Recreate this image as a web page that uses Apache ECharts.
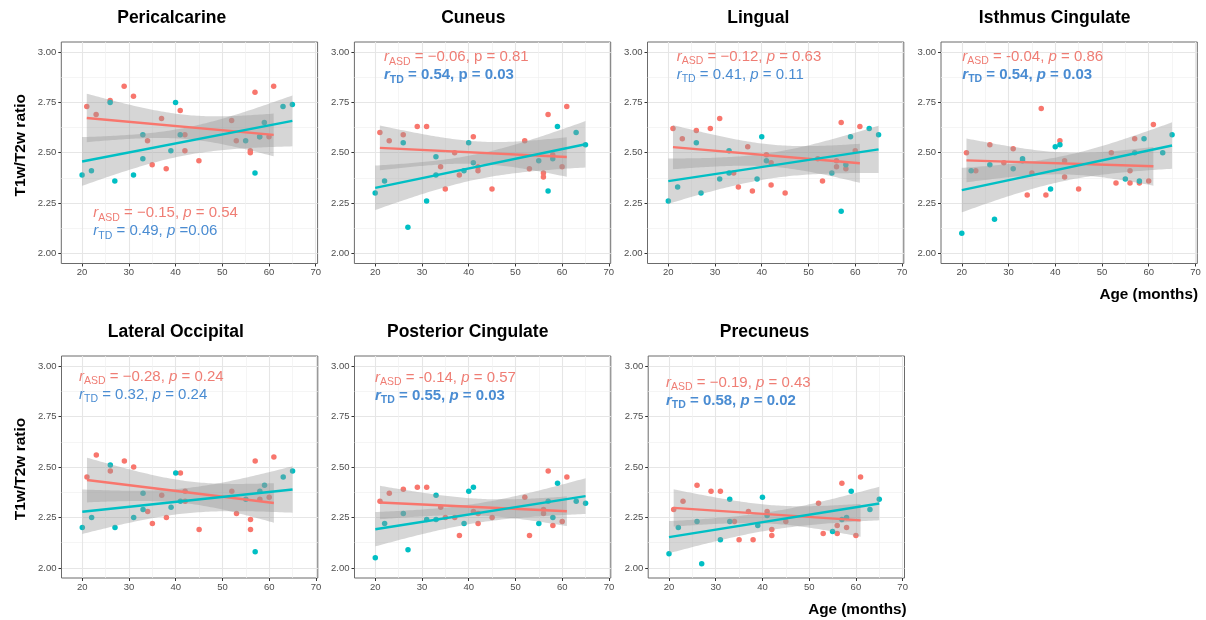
<!DOCTYPE html>
<html>
<head>
<meta charset="utf-8">
<script src="https://cdn.jsdelivr.net/npm/echarts@6/dist/echarts.min.js"></script>
<style>
  html, body { margin: 0; padding: 0; background: #fff; }
  #chart { width: 1206px; height: 620px; }
</style>
</head>
<body>
<div id="chart"></div>
<script>
// ages (months) for each group, same subjects in every panel
const asdAge = [21, 23, 26, 29, 31, 34, 35, 37, 38, 41, 42, 42, 45, 52, 53, 56, 56, 57, 58, 60, 61]
const tdAge = [20, 22, 26, 27, 31, 33, 33, 39, 40, 41, 55, 57, 58, 59, 63, 65]

// T1w/T2w ratio per region
const pericalcarineAsd = [2.73, 2.69, 2.76, 2.83, 2.78, 2.56, 2.44, 2.67, 2.42, 2.71, 2.59, 2.51, 2.46, 2.66, 2.56, 2.51, 2.50, 2.80, 2.58, 2.58, 2.83]
const pericalcarineTd = [2.39, 2.41, 2.75, 2.36, 2.39, 2.59, 2.47, 2.51, 2.75, 2.59, 2.56, 2.40, 2.58, 2.65, 2.73, 2.74]
const cuneusAsd = [2.60, 2.56, 2.59, 2.63, 2.63, 2.43, 2.32, 2.50, 2.39, 2.58, 2.41, 2.43, 2.32, 2.56, 2.42, 2.40, 2.38, 2.69, 2.49, 2.43, 2.73]
const cuneusTd = [2.30, 2.36, 2.55, 2.13, 2.26, 2.48, 2.39, 2.41, 2.55, 2.45, 2.46, 2.31, 2.47, 2.63, 2.60, 2.54]
const lingualAsd = [2.62, 2.57, 2.61, 2.62, 2.67, 2.40, 2.33, 2.53, 2.31, 2.49, 2.45, 2.34, 2.30, 2.47, 2.36, 2.46, 2.43, 2.65, 2.42, 2.51, 2.63]
const lingualTd = [2.26, 2.33, 2.55, 2.30, 2.37, 2.51, 2.40, 2.37, 2.58, 2.46, 2.40, 2.21, 2.44, 2.58, 2.62, 2.59]
const isthmusAsd = [2.50, 2.41, 2.54, 2.45, 2.52, 2.29, 2.40, 2.72, 2.29, 2.56, 2.46, 2.38, 2.32, 2.50, 2.35, 2.41, 2.35, 2.57, 2.35, 2.36, 2.64]
const isthmusTd = [2.10, 2.41, 2.44, 2.17, 2.42, 2.47, 2.46, 2.32, 2.53, 2.54, 2.37, 2.50, 2.36, 2.57, 2.50, 2.59]
const latOccAsd = [2.45, 2.56, 2.48, 2.53, 2.50, 2.28, 2.22, 2.36, 2.25, 2.47, 2.38, 2.33, 2.19, 2.38, 2.27, 2.24, 2.19, 2.53, 2.34, 2.35, 2.55]
const latOccTd = [2.20, 2.25, 2.51, 2.20, 2.25, 2.37, 2.29, 2.30, 2.47, 2.33, 2.34, 2.08, 2.38, 2.41, 2.45, 2.48]
const postCingAsd = [2.33, 2.37, 2.39, 2.40, 2.40, 2.30, 2.25, 2.25, 2.16, 2.28, 2.27, 2.22, 2.25, 2.35, 2.16, 2.29, 2.27, 2.48, 2.21, 2.23, 2.45]
const postCingTd = [2.05, 2.22, 2.27, 2.09, 2.24, 2.36, 2.24, 2.22, 2.38, 2.40, 2.22, 2.33, 2.25, 2.42, 2.33, 2.32]
const precuneusAsd = [2.29, 2.33, 2.41, 2.38, 2.38, 2.23, 2.14, 2.28, 2.14, 2.28, 2.19, 2.16, 2.23, 2.32, 2.17, 2.21, 2.17, 2.42, 2.20, 2.16, 2.45]
const precuneusTd = [2.07, 2.20, 2.23, 2.02, 2.14, 2.34, 2.23, 2.21, 2.35, 2.26, 2.18, 2.24, 2.25, 2.38, 2.29, 2.34]

const regions = ['Pericalcarine', 'Cuneus', 'Lingual', 'Isthmus Cingulate', 'Lateral Occipital', 'Posterior Cingulate', 'Precuneus']
const asdValues = [pericalcarineAsd, cuneusAsd, lingualAsd, isthmusAsd, latOccAsd, postCingAsd, precuneusAsd]
const tdValues = [pericalcarineTd, cuneusTd, lingualTd, isthmusTd, latOccTd, postCingTd, precuneusTd]

// correlation labels
const rAsd = ['\u22120.15', '\u22120.06', '\u22120.12', '-0.04', '\u22120.28', '-0.14', '\u22120.19']
const pAsd = ['0.54', '0.81', '0.63', '0.86', '0.24', '0.57', '0.43']
const rTd = ['0.49', '0.54', '0.41', '0.54', '0.32', '0.55', '0.58']
const pTd = ['0.06', '0.03', '0.11', '0.03', '0.24', '0.03', '0.02']
const tdSignificant = [false, true, false, true, false, true, true]

const xTicks = [20, 30, 40, 50, 60, 70]
const xMinor = [25, 35, 45, 55, 65]
const yTicks = [2.0, 2.25, 2.5, 2.75, 3.0]
const yMinor = [2.125, 2.375, 2.625, 2.875]

// ---- layout (px) ----
const panelLeft = [61.3, 354.4, 647.5, 941, 61.5, 354.5, 648.2]
const panelTop = [42, 42, 42, 42, 356, 356, 356]
const panelW = 256.3
const panelH = [221.5, 221.5, 221.5, 221.5, 222, 222, 222]
const titleX = [171.7, 473.3, 758.3, 1054.7, 175.8, 467.7, 764.5]
const titleY = [18.3, 18.3, 18.3, 18.3, 332, 332, 332]
const noteX = [93.3, 384, 676.7, 962.3, 79, 375, 666]
const noteY = [213.3, 57.3, 57, 57, 376.7, 377.7, 382.7]

const RED = '#F8766D'
const TEAL = '#00BFC4'
const RED_TXT = '#EF7D74'
const BLUE_TXT = '#4A8CD2'
const FONT = '"Liberation Sans", Arial, Helvetica, sans-serif'

function tQuantile(df) {
  const z = 1.959964
  return z + (z ** 3 + z) / (4 * df) + (5 * z ** 5 + 16 * z ** 3 + 3 * z) / (96 * df * df) +
    (3 * z ** 7 + 19 * z ** 5 + 17 * z ** 3 - 15 * z) / (384 * df ** 3)
}

// lm fit + 95% CI like geom_smooth(method = 'lm')
function smooth(xs, ys) {
  const n = xs.length
  const mx = xs.reduce((a, b) => a + b, 0) / n
  const my = ys.reduce((a, b) => a + b, 0) / n
  let sxx = 0, sxy = 0
  for (let i = 0; i < n; i++) {
    sxx += (xs[i] - mx) ** 2
    sxy += (xs[i] - mx) * (ys[i] - my)
  }
  const b = sxy / sxx
  const a = my - b * mx
  let sse = 0
  for (let i = 0; i < n; i++) sse += (ys[i] - a - b * xs[i]) ** 2
  const s = Math.sqrt(sse / (n - 2))
  const t = tQuantile(n - 2)
  const lo = Math.min(...xs), hi = Math.max(...xs)
  const band = []
  for (let k = 0; k <= 80; k++) {
    const x = lo + (hi - lo) * k / 80
    const yh = a + b * x
    const se = s * Math.sqrt(1 / n + (x - mx) ** 2 / sxx)
    band.push([x, yh - t * se, yh + t * se])
  }
  return { line: [[lo, a + b * lo], [hi, a + b * hi]], band }
}

const chart = echarts.init(document.getElementById('chart'))

const grids = [], xAxes = [], yAxes = [], series = [], graphics = []

regions.forEach((name, i) => {
  grids.push({
    left: panelLeft[i], top: panelTop[i], width: panelW, height: panelH[i],
    show: true, borderColor: '#6b6b6b', borderWidth: 1, backgroundColor: '#fff'
  })

  const xBase = { gridIndex: i, type: 'value', min: 15.55, max: 70.4, axisLine: { show: false, onZero: false } }
  const yBase = { gridIndex: i, type: 'value', min: 1.95, max: 3.05, axisLine: { show: false, onZero: false } }

  xAxes.push(Object.assign({}, xBase, {
    position: 'bottom',
    axisTick: { show: true, customValues: xTicks, length: 3, lineStyle: { color: '#333', width: 1 } },
    axisLabel: { customValues: xTicks, fontSize: 9.5, color: '#4d4d4d', margin: 4, fontFamily: FONT },
    splitLine: { show: true, lineStyle: { color: '#e6e6e6', width: 1.1 } }
  }))
  xAxes.push(Object.assign({}, xBase, {
    position: 'top',
    axisTick: { show: false, customValues: xMinor },
    axisLabel: { show: false },
    splitLine: { show: true, lineStyle: { color: '#f0f0f0', width: 0.7 } }
  }))
  yAxes.push(Object.assign({}, yBase, {
    position: 'left',
    axisTick: { show: true, customValues: yTicks, length: 3, lineStyle: { color: '#333', width: 1 } },
    axisLabel: {
      customValues: yTicks, fontSize: 9.5, color: '#4d4d4d', margin: 5, fontFamily: FONT,
      formatter: v => v.toFixed(2)
    },
    splitLine: { show: true, lineStyle: { color: '#e6e6e6', width: 1.1 } }
  }))
  yAxes.push(Object.assign({}, yBase, {
    position: 'right',
    axisTick: { show: false, customValues: yMinor },
    axisLabel: { show: false },
    splitLine: { show: true, lineStyle: { color: '#f0f0f0', width: 0.7 } }
  }))

  const xi = 2 * i, yi = 2 * i
  const groups = [
    { ages: asdAge, vals: asdValues[i], color: RED },
    { ages: tdAge, vals: tdValues[i], color: TEAL }
  ]
  groups.forEach(g => {
    const pts = g.ages.map((a, k) => [a, g.vals[k]])
    series.push({
      type: 'scatter', xAxisIndex: xi, yAxisIndex: yi, data: pts,
      symbolSize: 5.5, itemStyle: { color: g.color, opacity: 1 }, z: 2, silent: true
    })
  })
  groups.forEach(g => {
    const fit = smooth(g.ages, g.vals)
    series.push({
      type: 'custom', xAxisIndex: xi, yAxisIndex: yi, z: 3, silent: true,
      data: [[fit.band[0][0], fit.band[0][1]]],
      renderItem: (params, api) => {
        const upper = fit.band.map(p => api.coord([p[0], p[2]]))
        const lower = fit.band.map(p => api.coord([p[0], p[1]])).reverse()
        return {
          type: 'polygon',
          shape: { points: upper.concat(lower) },
          style: { fill: 'rgba(153,153,153,0.4)' }
        }
      }
    })
    series.push({
      type: 'line', xAxisIndex: xi, yAxisIndex: yi, data: fit.line, z: 4, silent: true,
      showSymbol: false, lineStyle: { color: g.color, width: 2.4 }
    })
  })

  // panel title
  graphics.push({
    type: 'text', x: titleX[i], y: titleY[i], silent: true, z: 100,
    style: {
      text: name, fill: '#000', fontSize: 17.5, fontWeight: 'bold', fontFamily: FONT,
      align: 'center', verticalAlign: 'middle'
    }
  })

  // r / p annotation
  const bold = tdSignificant[i]
  const pItalic = i !== 1
  const mkRich = (color, isBold) => {
    const fw = isBold ? 'bold' : 'normal'
    return {
      ri: { fill: color, fontSize: 15, fontStyle: 'italic', fontWeight: fw, fontFamily: FONT, lineHeight: 20, verticalAlign: 'middle' },
      n: { fill: color, fontSize: 15, fontWeight: fw, fontFamily: FONT, lineHeight: 20, verticalAlign: 'middle' },
      pi: { fill: color, fontSize: 15, fontStyle: pItalic ? 'italic' : 'normal', fontWeight: fw, fontFamily: FONT, lineHeight: 20, verticalAlign: 'middle' },
      sub: { fill: color, fontSize: 10.5, fontWeight: fw, fontFamily: FONT, lineHeight: 12, verticalAlign: 'bottom' }
    }
  }
  const asdLine = `{ri|r}{sub|ASD}{n| = ${rAsd[i]}, }{pi|p}{n| = ${pAsd[i]}}`
  const tdEq = i === 0 ? ' =' : ' = '
  const tdLine = `{ri|r}{sub|TD}{n| = ${rTd[i]}, }{pi|p}{n|${tdEq}${pTd[i]}}`
  graphics.push({
    type: 'text', x: noteX[i], y: noteY[i], silent: true, z: 100,
    style: { text: asdLine, rich: mkRich(RED_TXT, false), align: 'left', verticalAlign: 'middle' }
  })
  graphics.push({
    type: 'text', x: noteX[i], y: noteY[i] + 18, silent: true, z: 100,
    style: { text: tdLine, rich: mkRich(BLUE_TXT, bold), align: 'left', verticalAlign: 'middle' }
  })
})

// axis titles
const yTitle = { fill: '#000', fontSize: 15.5, fontWeight: 'bold', fontFamily: FONT, align: 'center', verticalAlign: 'middle' }
graphics.push({ type: 'text', x: 21, y: 145.3, rotation: Math.PI / 2, silent: true, z: 100, style: Object.assign({ text: 'T1w/T2w ratio' }, yTitle) })
graphics.push({ type: 'text', x: 20.5, y: 469, rotation: Math.PI / 2, silent: true, z: 100, style: Object.assign({ text: 'T1w/T2w ratio' }, yTitle) })
const xTitle = { fill: '#000', fontSize: 15.3, fontWeight: 'bold', fontFamily: FONT, align: 'right', verticalAlign: 'middle' }
graphics.push({ type: 'text', x: 1198, y: 294.5, silent: true, z: 100, style: Object.assign({ text: 'Age (months)' }, xTitle) })
graphics.push({ type: 'text', x: 906.7, y: 610, silent: true, z: 100, style: Object.assign({ text: 'Age (months)' }, xTitle) })

chart.setOption({
  animation: false,
  backgroundColor: '#fff',
  grid: grids,
  xAxis: xAxes,
  yAxis: yAxes,
  series: series,
  graphic: { elements: graphics }
})
</script>
</body>
</html>
